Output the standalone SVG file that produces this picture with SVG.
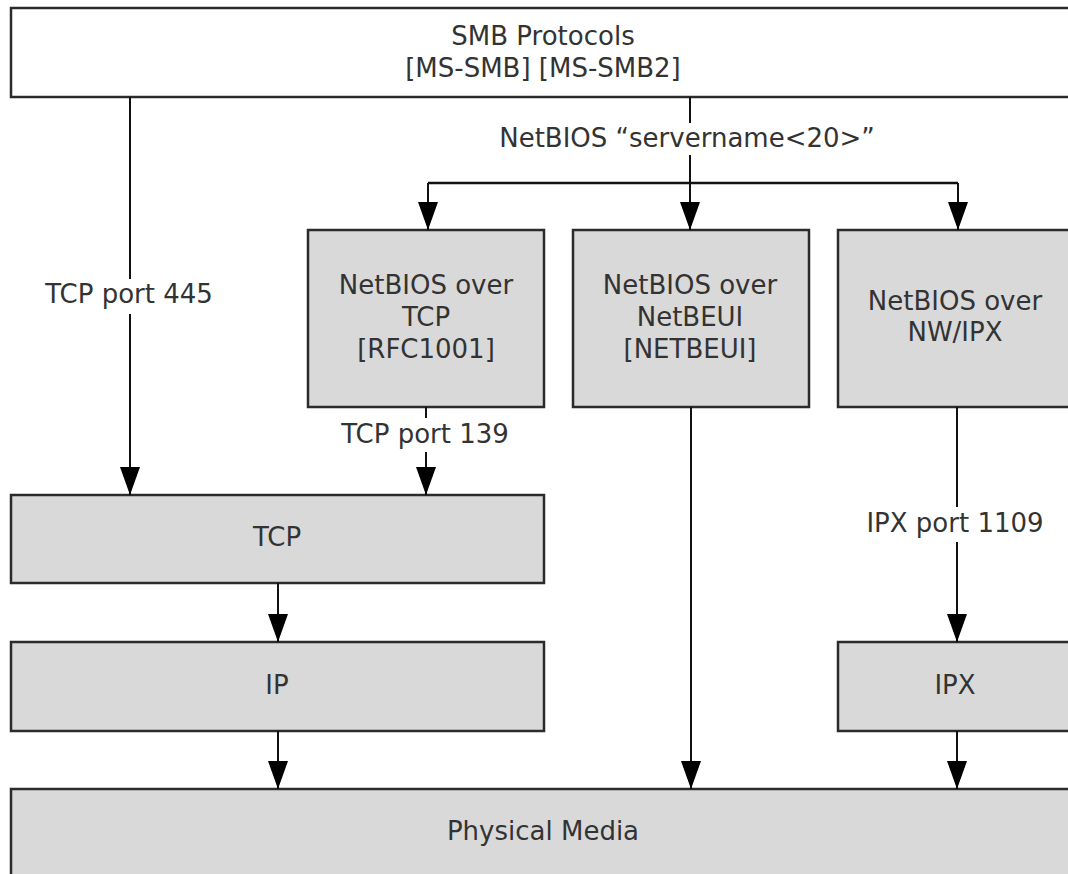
<svg xmlns="http://www.w3.org/2000/svg" width="1068" height="874" viewBox="0 0 1068 874">
<style>
.box{fill:#d9d9d9;stroke:#2b2b2b;stroke-width:2.5}
.top{fill:#ffffff;stroke:#2b2b2b;stroke-width:2.5}
.t{font-family:"DejaVu Sans",Verdana,sans-serif;font-size:26px;fill:#333333;text-anchor:middle}
.c{stroke:#111111;stroke-width:2;fill:none}
.a{stroke:#111111;stroke-width:2;fill:none;marker-end:url(#arr)}
</style>
<defs>
<marker id="arr" viewBox="0 0 28 20" refX="28" refY="10" markerWidth="28" markerHeight="20" markerUnits="userSpaceOnUse" orient="auto">
<path d="M0,0 L28,10 L0,20 z" fill="#000000"/>
</marker>
</defs>
<rect width="1068" height="874" fill="#ffffff"/>
<g id="smb">
<rect class="top" x="11" y="8" width="1064" height="89"/>
<text class="t" x="543" y="45">SMB Protocols</text>
<text class="t" x="543" y="77">[MS-SMB] [MS-SMB2]</text>
</g>
<g id="nbtcp">
<rect class="box" x="308" y="230" width="236" height="177"/>
<text class="t" x="426" y="294">NetBIOS over</text>
<text class="t" x="426" y="326">TCP</text>
<text class="t" x="426" y="358">[RFC1001]</text>
</g>
<g id="nbnetbeui">
<rect class="box" x="573" y="230" width="236" height="177"/>
<text class="t" x="690" y="294">NetBIOS over</text>
<text class="t" x="690" y="326">NetBEUI</text>
<text class="t" x="690" y="358">[NETBEUI]</text>
</g>
<g id="nbipx">
<rect class="box" x="838" y="230" width="236" height="177"/>
<text class="t" x="955" y="310">NetBIOS over</text>
<text class="t" x="955" y="341">NW/IPX</text>
</g>
<g id="tcp">
<rect class="box" x="11" y="495" width="533" height="88"/>
<text class="t" x="277" y="546">TCP</text>
</g>
<g id="ip">
<rect class="box" x="11" y="642" width="533" height="89"/>
<text class="t" x="277" y="694">IP</text>
</g>
<g id="ipx">
<rect class="box" x="838" y="642" width="236" height="89"/>
<text class="t" x="955" y="694">IPX</text>
</g>
<g id="media">
<rect class="box" x="11" y="789" width="1064" height="100"/>
<text class="t" x="543" y="840">Physical Media</text>
</g>
<g id="connectors">
<line class="c" x1="130" y1="97" x2="130" y2="279"/>
<line class="a" x1="130" y1="314" x2="130" y2="495"/>
<text class="t" x="129" y="303">TCP port 445</text>
<line class="c" x1="690" y1="97" x2="690" y2="123"/>
<text class="t" x="687" y="147">NetBIOS “servername&lt;20&gt;”</text>
<line class="a" x1="690" y1="155" x2="690" y2="230"/>
<line class="c" x1="428" y1="183" x2="958" y2="183" style="stroke-width:2.5"/>
<line class="a" x1="428" y1="183" x2="428" y2="230"/>
<line class="a" x1="958" y1="183" x2="958" y2="230"/>
<line class="c" x1="426" y1="407" x2="426" y2="418"/>
<text class="t" x="425" y="443">TCP port 139</text>
<line class="a" x1="426" y1="452" x2="426" y2="495"/>
<line class="a" x1="691" y1="407" x2="691" y2="789"/>
<line class="c" x1="957" y1="407" x2="957" y2="507"/>
<text class="t" x="955" y="532">IPX port 1109</text>
<line class="a" x1="957" y1="542" x2="957" y2="642"/>
<line class="a" x1="278" y1="583" x2="278" y2="642"/>
<line class="a" x1="278" y1="731" x2="278" y2="789"/>
<line class="a" x1="957" y1="731" x2="957" y2="789"/>
</g>
</svg>
